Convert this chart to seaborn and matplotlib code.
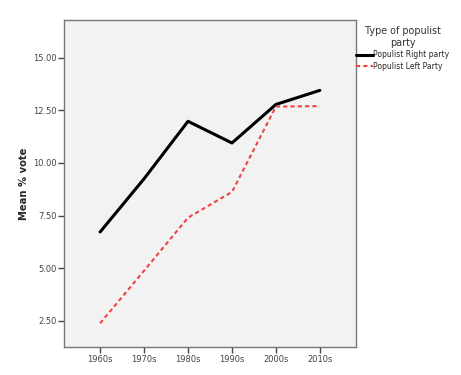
import matplotlib
matplotlib.use("Agg")
import matplotlib.pyplot as plt
import pandas as pd
import seaborn as sns

decades = ["1960s", "1970s", "1980s", "1990s", "2000s", "2010s"]
right_party = [6.72, 9.25, 11.98, 10.95, 12.78, 13.45]
left_party = [2.38, 4.88, 7.40, 8.62, 12.68, 12.70]
series_names = ["Populist Right party", "Populist Left Party"]

df = pd.DataFrame({
    "decade": decades * 2,
    "pos": list(range(len(decades))) * 2,
    "vote": right_party + left_party,
    "party": [series_names[0]] * len(decades) + [series_names[1]] * len(decades),
})

sns.set_style("ticks")
plt.rcParams["font.family"] = ["DejaVu Sans"]

fig = plt.figure(figsize=(4.61, 3.75), dpi=100)
ax = fig.add_axes([0.139, 0.075, 0.633, 0.872])
ax.set_facecolor("#f2f2f2")

sns.lineplot(
    data=df, x="pos", y="vote", hue="party", style="party",
    palette={series_names[0]: "black", series_names[1]: "#f04444"},
    dashes={series_names[0]: "", series_names[1]: (2, 1.5)},
    linewidth=2.2, ax=ax, legend=True, estimator=None,
)
for line in ax.lines:
    if line.get_color() != "black":
        line.set_linewidth(1.5)

ax.set_xlim(-0.82, 5.82)
ax.set_ylim(1.26, 16.8)
ax.set_xticks(range(len(decades)))
ax.set_xticklabels(decades)
ax.set_yticks([2.5, 5.0, 7.5, 10.0, 12.5, 15.0])
ax.set_yticklabels([f"{v:.2f}" for v in [2.5, 5.0, 7.5, 10.0, 12.5, 15.0]])
ax.tick_params(axis="both", labelsize=6, colors="#444444", length=4, width=1, pad=1.5)
ax.set_xlabel("")
ax.set_ylabel("Mean % vote", fontsize=7.2, fontweight="bold")
ax.yaxis.set_label_coords(-0.12, 0.5)
for sp in ax.spines.values():
    sp.set_visible(True)
    sp.set_color("#777777")
    sp.set_linewidth(1.0)

handles, labels = ax.get_legend_handles_labels()
for h in handles:
    if h.get_color() != "black":
        h.set_linewidth(1.5)
leg = ax.legend(
    handles, labels, title="Type of populist\nparty",
    loc="upper left", bbox_to_anchor=(1.0, 0.98), frameon=False,
    fontsize=5.5, title_fontsize=6.9, handlelength=2.2, handletextpad=0.1,
    borderaxespad=0.0, borderpad=0.0, labelspacing=0.3, alignment="center",
)
leg.get_title().set_color("#333333")
leg.get_title().set_multialignment("center")

fig.savefig("out.png", dpi=100)
